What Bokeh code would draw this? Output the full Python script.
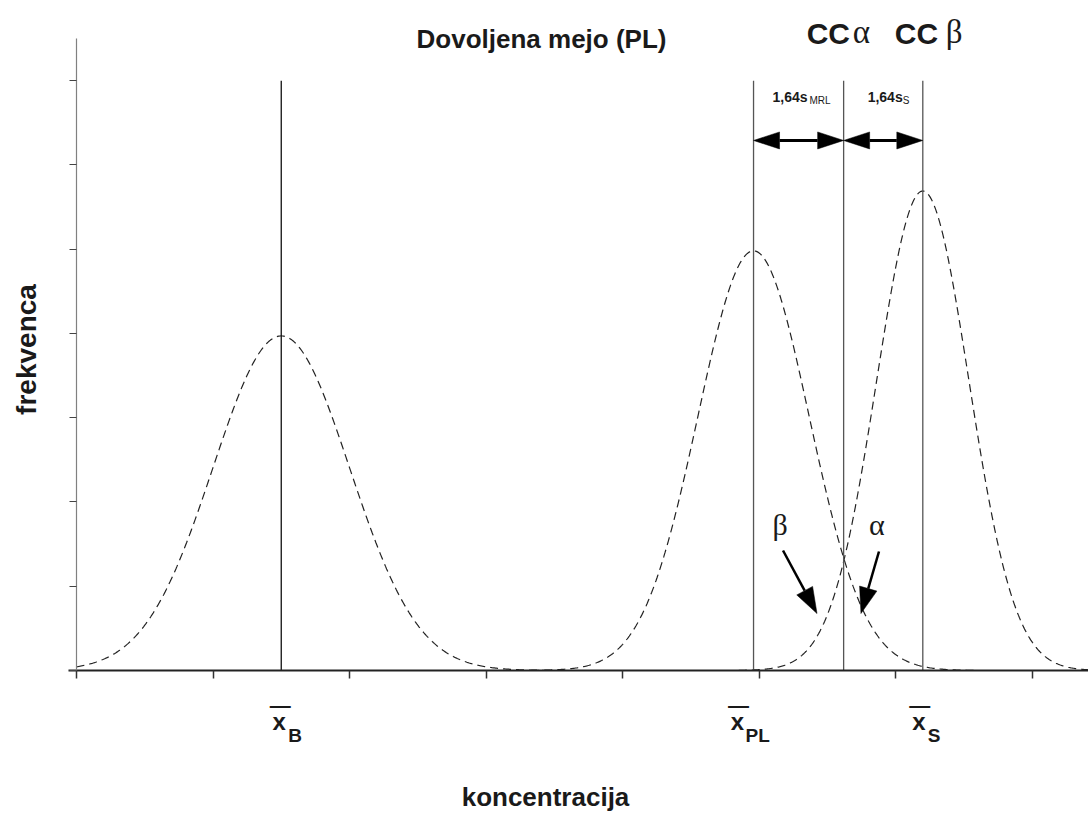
import numpy as np
from bokeh.plotting import figure
from bokeh.models import Label, FixedTicker, Range1d
from bokeh.embed import file_html
from bokeh.resources import INLINE

# ---------------- data ----------------
dist_names = ["B", "PL", "S"]
dist_means = [1.50, 4.96, 6.20]       # centres of the three distributions
dist_sds = [0.50, 0.407, 0.337]       # spreads
dist_peaks = [3.97, 4.98, 5.69]       # peak heights (frekvenca)

line_names = ["xB", "xPL", "CCa", "xS"]
line_positions = [1.50, 4.96, 5.62, 6.20]
line_colors = ["#111111", "#555555", "#555555", "#555555"]
line_top = 7.0

x_ticks = [0, 1, 2, 3, 4, 5, 6, 7]
y_ticks = [0, 1, 2, 3, 4, 5, 6, 7]
y_top = 7.5

interval_y = 6.29                     # height of the 1,64 s double arrows
greek_labels = ["β", "α"]
greek_x = [5.154, 5.864]
greek_y = [1.60, 1.60]                # baselines
greek_tail_x = [5.176, 5.879]
greek_tail_y = [1.424, 1.412]
greek_tip_x = [5.425, 5.747]
greek_tip_y = [0.676, 0.676]

# ---------------- layout ----------------
W, H = 1088, 818
LEFT = 76                             # pixel column of the y axis
BASE = 670                            # pixel row of the x axis
AXIS_TOP = 38                         # pixel row of the top of the y axis
SX = 136.5                            # px per x unit
SY = (BASE - AXIS_TOP) / y_top        # px per y unit
X_START = -LEFT / SX
X_END = (W - LEFT) / SX
Y_START = -(H - BASE) / SY
Y_END = BASE / SY
BL = 0.38                             # baseline correction (fraction of font size)

p = figure(width=W, height=H, x_range=Range1d(X_START, X_END), y_range=Range1d(Y_START, Y_END),
           output_backend="svg", toolbar_location=None,
           min_border_left=0, min_border_right=0, min_border_top=0, min_border_bottom=0)
p.outline_line_color = None
p.grid.visible = False
p.background_fill_color = "white"
p.border_fill_color = "white"

SANS = "Liberation Sans"
SERIF = "Liberation Serif"
INK = "#1a1a1a"

# axes drawn at x = 0 and frekvenca = 0
xa = p.xaxis[0]
xa.fixed_location = 0
xa.bounds = (-8 / SX, X_END)
xa.ticker = FixedTicker(ticks=[], minor_ticks=x_ticks)
xa.major_tick_line_color = None
xa.minor_tick_out = 8
xa.minor_tick_in = 0
xa.minor_tick_line_color = "#333333"
xa.minor_tick_line_width = 1.5
xa.axis_line_width = 2
xa.axis_line_color = "#222222"

ya = p.yaxis[0]
ya.fixed_location = 0
ya.bounds = (0, y_top)
ya.ticker = FixedTicker(ticks=[], minor_ticks=y_ticks)
ya.major_tick_line_color = None
ya.minor_tick_out = 7
ya.minor_tick_in = 0
ya.minor_tick_line_color = "#444444"
ya.minor_tick_line_width = 1.2
ya.axis_line_width = 1.2
ya.axis_line_color = "#808080"

# distributions (dashed)
for m, s, h in zip(dist_means, dist_sds, dist_peaks):
    xs = np.linspace(max(0.0, m - 4 * s), min(X_END, m + 4 * s), 400)
    ys = h * np.exp(-0.5 * ((xs - m) / s) ** 2)
    p.line(xs, ys, line_color="#222222", line_width=1.2, line_dash="8 5")

# vertical lines
p.segment(x0=line_positions, y0=[0] * len(line_positions), x1=line_positions,
          y1=[line_top] * len(line_positions), line_color=line_colors, line_width=1.3)


def head(tail_x, tail_y, tip_x, tip_y, length_px, half_px):
    dx = (tip_x - tail_x) * SX
    dy = (tip_y - tail_y) * SY
    n = np.hypot(dx, dy)
    ux, uy = dx / n, dy / n
    bx, by = -length_px * ux, -length_px * uy
    px, py = -uy * half_px, ux * half_px
    xs = [tip_x, tip_x + (bx + px) / SX, tip_x + (bx - px) / SX]
    ys = [tip_y, tip_y + (by + py) / SY, tip_y + (by - py) / SY]
    base = (tip_x + bx / SX, tip_y + by / SY)
    return xs, ys, base


def arrow(tail_x, tail_y, tip_x, tip_y, length_px, half_px, width, double=False):
    hx, hy, b1 = head(tail_x, tail_y, tip_x, tip_y, length_px, half_px)
    pxs, pys = [hx], [hy]
    start = (tail_x, tail_y)
    if double:
        hx2, hy2, b2 = head(tip_x, tip_y, tail_x, tail_y, length_px, half_px)
        pxs.append(hx2)
        pys.append(hy2)
        start = b2
    p.segment(x0=[start[0]], y0=[start[1]], x1=[b1[0]], y1=[b1[1]],
              line_color="black", line_width=width)
    p.patches(pxs, pys, fill_color="black", line_color="black", line_width=0.5)


# 1,64 s double arrows between xPL-CCa and CCa-xS
arrow_pts = [line_positions[1], line_positions[2], line_positions[3]]
for a, b in zip(arrow_pts[:-1], arrow_pts[1:]):
    arrow(a, interval_y, b, interval_y, 26, 8.5, 3, double=True)

# beta / alpha arrows
for tx, ty, hx, hy in zip(greek_tail_x, greek_tail_y, greek_tip_x, greek_tip_y):
    arrow(tx, ty, hx, hy, 26, 9, 2.5)


def ypx(page_y):
    return (BASE - page_y) / SY


def xpx(page_x):
    return (page_x - LEFT) / SX


def lab(x, page_base, text, size, font=SANS, bold=True, align="left"):
    y = ypx(page_base - BL * size)
    p.add_layout(Label(x=x, y=y, text=text, text_font=font,
                       text_font_style="bold" if bold else "normal",
                       text_font_size=f"{size}px", text_align=align,
                       text_baseline="alphabetic", text_color=INK))


for g, gx, gy in zip(greek_labels, greek_x, greek_y):
    lab(gx, BASE - gy * SY, g, 30, font=SERIF, bold=False, align="center")

# title-like texts
lab(xpx(541), 48, "Dovoljena mejo (PL)", 26, align="center")

cc_anchor = [line_positions[2], line_positions[3]]
cc_greek = ["α", "β"]
cc_dx = [(-37, 9), (-28, 23)]
for xa_, g, (d1, d2) in zip(cc_anchor, cc_greek, cc_dx):
    lab(xa_ + d1 / SX, 44.5, "CC", 30)
    lab(xa_ + d2 / SX, 44.5, g, 33, font=SERIF, bold=False)

# 1,64 s labels
small_anchor = [line_positions[1], line_positions[2]]
small_sub = ["MRL", "S"]
small_dx = [(19, 56), (24, 59)]
for xa_, sub, (d1, d2) in zip(small_anchor, small_sub, small_dx):
    lab(xa_ + d1 / SX, 102, "1,64s", 14)
    lab(xa_ + d2 / SX, 104, sub, 10, bold=False)

# x-bar labels under the axis
xbar_anchor = [line_positions[0], line_positions[1], line_positions[3]]
xbar_sub = ["B", "PL", "S"]
xbar_dx = [(-2, 7), (-16, -8), (-4, 5)]
for xa_, sub, (d1, d2) in zip(xbar_anchor, xbar_sub, xbar_dx):
    lab(xa_ + d1 / SX, 730, "x", 24, align="center")
    lab(xa_ + (d1 + 1) / SX, 711.5, "—", 21, align="center")
    lab(xa_ + d2 / SX, 742, sub, 19)

# axis titles
lab(xpx(545), 806, "koncentracija", 26, align="center")
YT = 28
p.add_layout(Label(x=xpx(37 - BL * YT), y=ypx(349), text="frekvenca", angle=np.pi / 2,
                   text_font=SANS, text_font_style="bold", text_font_size=f"{YT}px",
                   text_align="center", text_baseline="alphabetic", text_color=INK))

open("out.html", "w").write(file_html(p, INLINE))
